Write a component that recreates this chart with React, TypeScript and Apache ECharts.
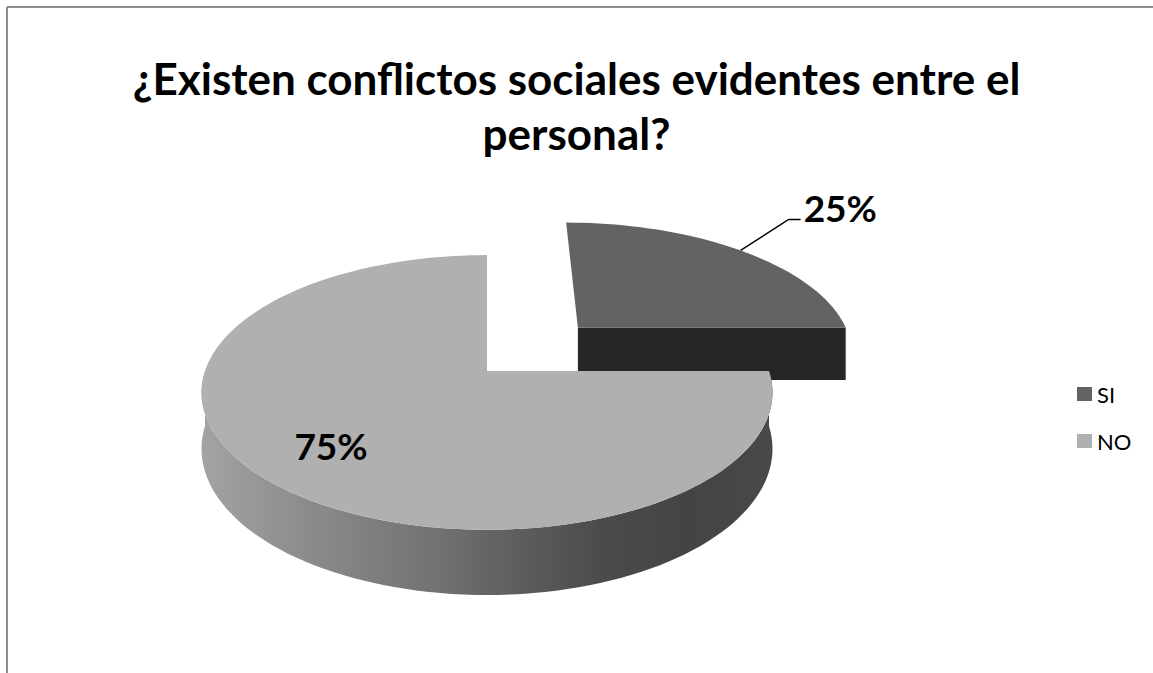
import React, { useEffect, useRef } from 'react';
import * as echarts from 'echarts';

// ---- data ----
const chartTitle = '¿Existen conflictos sociales evidentes entre el\npersonal?';
const categories = ['SI', 'NO'];
const values = [25, 75];
const explode = [0.48, 0];
const labelPlacement = ['outside', 'inside'];

// ---- styles ----
const topColors = ['#636363', '#b0b0b0'];
const cutColors = ['#262626', '#9c9c9c'];
const sideStops: [number, string][][] = [
  [[0, '#4a4a4a'], [1, '#2a2a2a']],
  [[0, '#a3a3a3'], [0.2, '#8a8a8a'], [0.4, '#737373'], [0.55, '#5e5e5e'], [0.7, '#4b4b4b'], [0.85, '#444444'], [1, '#494949']],
];
const PIE = { cx: 487, cy: 371, r: 282, ry: 134, h: 55, d: 6.4 };
const FONT = 'Lato, "Open Sans", sans-serif';

const total = values.reduce((a, b) => a + b, 0);
const sliceData = (() => {
  let acc = 0;
  return values.map((v, i) => {
    const a0 = (acc / total) * 360;
    acc += v;
    const a1 = (acc / total) * 360;
    return { name: categories[i], value: [a0, a1, i, (v / total) * 100] };
  });
})();

const rad = (deg: number) => (deg * Math.PI) / 180;
function proj(X: number, Y: number, z: number): number[] {
  const s = PIE.d / (PIE.d - Y);
  return [PIE.cx + X * PIE.r * s, PIE.cy + (Y * PIE.ry + z * PIE.h) * s];
}

function renderItem(params: any, api: any) {
  const a0 = api.value(0);
  const a1 = api.value(1);
  const i = api.value(2);
  const pct = api.value(3);
  const midDeg = (a0 + a1) / 2;
  const mid = rad(midDeg);
  const ex = explode[i] * Math.sin(mid);
  const ey = -explode[i] * Math.cos(mid);
  const rim = (deg: number, z: number, f = 1) => proj(ex + f * Math.sin(rad(deg)), ey - f * Math.cos(rad(deg)), z);
  const apex = (z: number) => proj(ex, ey, z);
  const arc = (from: number, to: number, z: number) => {
    const n = Math.max(2, Math.ceil(Math.abs(to - from) / 2));
    const pts: number[][] = [];
    for (let k = 0; k <= n; k++) pts.push(rim(from + ((to - from) * k) / n, z));
    return pts;
  };
  const children: any[] = [];
  const lo = Math.max(a0, 90);
  const hi = Math.min(a1, 270);
  if (hi > lo) {
    children.push({
      type: 'polygon',
      shape: { points: [...arc(lo, hi, 0), ...arc(hi, lo, 1)] },
      style: {
        fill: new echarts.graphic.LinearGradient(0, 0, 1, 0, sideStops[i].map(([o, c]) => ({ offset: o, color: c }))),
      },
    });
  }
  const cutFace = (deg: number) => ({
    type: 'polygon',
    shape: { points: [apex(0), rim(deg, 0), rim(deg, 1), apex(1)] },
    style: { fill: cutColors[i] },
  });
  if (Math.sin(rad(a1)) > 0.01) children.push(cutFace(a1));
  if (Math.sin(rad(a0)) < -0.01) children.push(cutFace(a0));
  children.push({
    type: 'polygon',
    shape: { points: [apex(0), ...arc(a0, a1, 0)] },
    style: { fill: topColors[i] },
  });
  const labelText = Math.round(pct) + '%';
  if (labelPlacement[i] === 'inside') {
    const p = rim(midDeg, 0, 0.72);
    children.push({
      type: 'text',
      x: p[0],
      y: p[1],
      style: { text: labelText, fill: '#000', font: `bold 37px ${FONT}`, align: 'center', verticalAlign: 'middle' },
    });
  } else {
    const s = rim(midDeg, 0);
    const e = [s[0] + 48, s[1] - 31];
    const t = [e[0] + 12, e[1]];
    children.push({
      type: 'polyline',
      shape: { points: [s, e, t] },
      style: { stroke: '#000', lineWidth: 1.5, fill: 'none' },
    });
    children.push({
      type: 'text',
      x: t[0] + 3,
      y: t[1] - 12,
      style: { text: labelText, fill: '#000', font: `bold 37px ${FONT}`, align: 'left', verticalAlign: 'middle' },
    });
  }
  return { type: 'group', children };
}

export default function App() {
  const ref = useRef<HTMLDivElement>(null);
  useEffect(() => {
    if (!ref.current) return;
    const chart = echarts.init(ref.current, undefined, { renderer: 'svg' });
    chart.setOption({
      animation: false,
      backgroundColor: '#ffffff',
      title: {
        text: chartTitle,
        left: 'center',
        top: 45,
        textStyle: { fontFamily: FONT, fontWeight: 'bold', fontSize: 44, lineHeight: 55, color: '#000' },
      },
      legend: {
        orient: 'vertical',
        left: 1072,
        top: 378,
        icon: 'rect',
        itemWidth: 15,
        itemHeight: 14,
        itemGap: 25,
        selectedMode: false,
        data: categories,
        textStyle: { fontFamily: FONT, fontSize: 22, lineHeight: 22, color: '#000' },
      },
      graphic: [
        { type: 'line', shape: { x1: 7, y1: 7, x2: 1153, y2: 7 }, style: { stroke: '#8e8e8e', lineWidth: 2 } },
        { type: 'line', shape: { x1: 7, y1: 7, x2: 7, y2: 673 }, style: { stroke: '#8e8e8e', lineWidth: 2 } },
      ],
      series: [
        {
          type: 'pie',
          radius: [0, 0],
          center: [PIE.cx, PIE.cy],
          silent: true,
          label: { show: false },
          labelLine: { show: false },
          data: categories.map((c, i) => ({ name: c, value: values[i], itemStyle: { color: topColors[i] } })),
        },
        {
          type: 'custom',
          coordinateSystem: 'none',
          silent: true,
          renderItem,
          data: sliceData,
        },
      ],
    });
    return () => chart.dispose();
  }, []);
  return <div ref={ref} style={{ position: 'absolute', left: 0, top: 0, width: 1153, height: 673 }} />;
}
